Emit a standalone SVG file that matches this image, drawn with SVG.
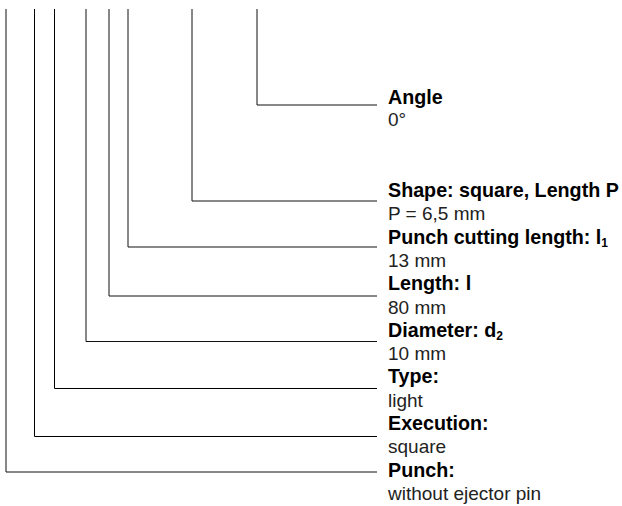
<svg xmlns="http://www.w3.org/2000/svg" width="622" height="506" viewBox="0 0 622 506">
<style>
.c{fill:none;stroke:#111;stroke-width:1}
.k{fill:none;stroke:#000;stroke-width:1}
.t{font-family:"Liberation Sans",Arial,sans-serif;font-size:19.7px;font-weight:bold;fill:#000}
.v{font-family:"Liberation Sans",Arial,sans-serif;font-size:19px;fill:#222}
.s{font-size:12px}
</style>
<rect width="622" height="506" fill="#fff"/>
<g id="connectors">
<path class="c" d="M257 9V105H377"/>
<path class="c" d="M192 9V201H377"/>
<path class="c" d="M128 9V247H377"/>
<path class="c" d="M109 9V296H377"/>
<path class="c" d="M86 9V341.5H377"/>
<path class="k" d="M54.5 9V388.5H377"/>
<path class="k" d="M34.5 9V436.5H377"/>
<path class="c" d="M6 9V472H377"/>
</g>
<g id="angle"><text class="t" x="388" y="103.5">Angle</text><text class="v" x="388" y="126">0°</text></g>
<g id="shape"><text class="t" x="388" y="197">Shape: square, Length P</text><text class="v" x="388" y="220.3">P = 6,5 mm</text></g>
<g id="cutting"><text class="t" x="388" y="243.6">Punch cutting length: l<tspan class="s" dy="3">1</tspan></text><text class="v" x="388" y="266.9">13 mm</text></g>
<g id="length"><text class="t" x="388" y="290.2">Length: l</text><text class="v" x="388" y="313.5">80 mm</text></g>
<g id="diameter"><text class="t" x="388" y="336.8">Diameter: d<tspan class="s" dy="3">2</tspan></text><text class="v" x="388" y="360.1">10 mm</text></g>
<g id="type"><text class="t" x="388" y="383.4">Type:</text><text class="v" x="388" y="406.7">light</text></g>
<g id="execution"><text class="t" x="388" y="430">Execution:</text><text class="v" x="388" y="453.3">square</text></g>
<g id="punch"><text class="t" x="388" y="476.6">Punch:</text><text class="v" x="388" y="499.9">without ejector pin</text></g>
</svg>
